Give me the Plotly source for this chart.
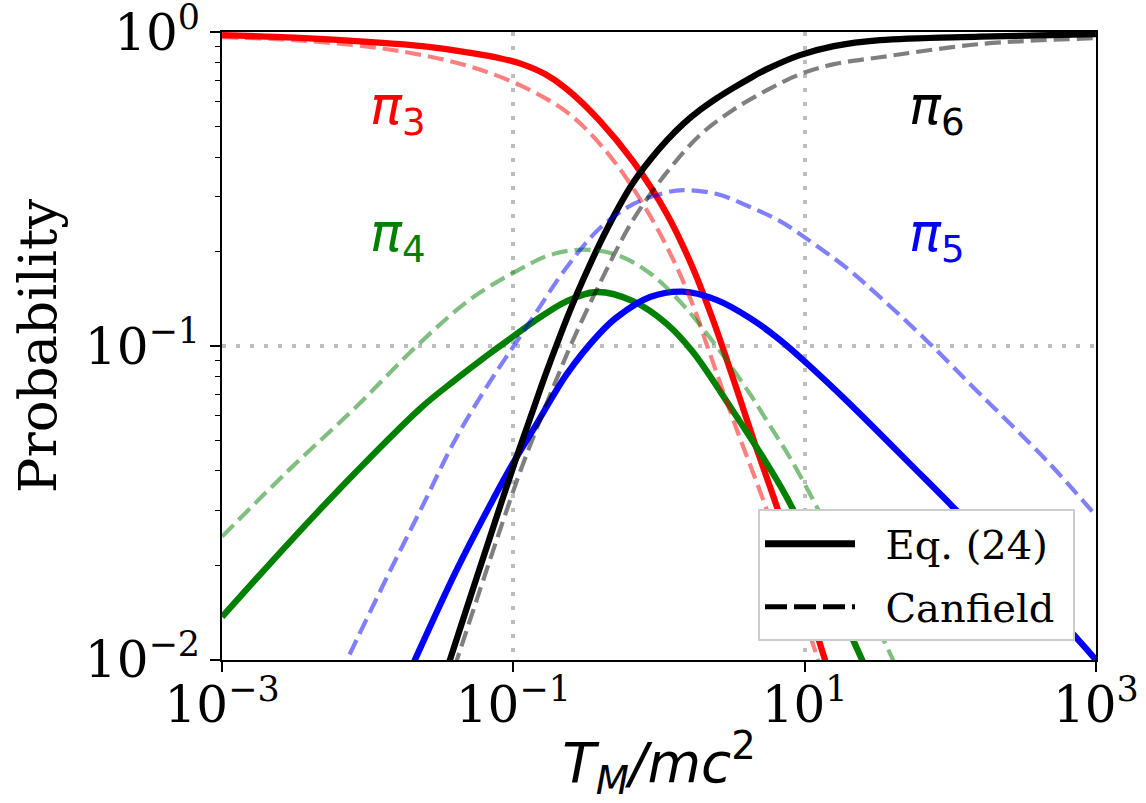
import plotly.graph_objects as go

# ---------------- data ----------------
# pi_3 : Eq. (24) and Canfield
T_pi3_eq = [0.001, 0.00317, 0.0107, 0.0236, 0.052, 0.0809, 0.1146, 0.165, 0.2333, 0.3936, 0.662, 1.135,
            1.71, 2.35, 3.221, 4.416, 6.457, 9.29, 13.8, 18.9]
P_pi3_eq = [0.978, 0.960, 0.929, 0.902, 0.857, 0.826, 0.791, 0.735, 0.658, 0.521, 0.388, 0.263,
            0.177, 0.121, 0.0791, 0.0509, 0.0307, 0.0180, 0.010, 0.0062]

T_pi3_cf = [0.001, 0.00317, 0.0107, 0.0236, 0.052, 0.1146, 0.2333, 0.3936, 0.662, 1.135, 1.71, 2.133,
            3.221, 5.508, 9.29, 12.36, 17.5]
P_pi3_cf = [0.964, 0.943, 0.896, 0.845, 0.774, 0.673, 0.556, 0.440, 0.319, 0.2067, 0.1351, 0.1007,
            0.0585, 0.0300, 0.01497, 0.010, 0.00607]

# pi_4
T_pi4_eq = [0.001, 0.00288, 0.00818, 0.0236, 0.0398, 0.0681, 0.0964, 0.1365, 0.2333, 0.375, 0.662, 1.135,
            1.71, 3.221, 5.57, 8.017, 24.8, 32.9]
P_pi4_eq = [0.0137, 0.0236, 0.0394, 0.0640, 0.0779, 0.0943, 0.1060, 0.1192, 0.1391, 0.1486, 0.139, 0.1175,
            0.0957, 0.0621, 0.0418, 0.0312, 0.010, 0.00746]

T_pi4_cf = [0.001, 0.00288, 0.00818, 0.0236, 0.052, 0.1146, 0.1786, 0.3006, 0.515, 0.867, 1.462, 2.5,
            4.217, 5.508, 8.851, 38.5, 52.8]
P_pi4_cf = [0.0247, 0.0403, 0.0635, 0.1038, 0.1422, 0.177, 0.195, 0.2028, 0.195, 0.1706, 0.1352, 0.0993,
            0.0703, 0.0577, 0.0403, 0.0105, 0.00746]

# pi_5
T_pi5_eq = [0.0159, 0.0211, 0.0398, 0.0681, 0.1026, 0.1365, 0.2333, 0.3936, 0.515, 0.867, 1.462, 2.5,
            4.217, 6.776, 11.4, 19.5, 55.5, 104.3, 300.6, 695, 1000]
P_pi5_eq = [0.00746, 0.010, 0.0189, 0.0307, 0.0434, 0.054, 0.0815, 0.110, 0.1236, 0.1432, 0.149, 0.140,
            0.1227, 0.1045, 0.0845, 0.0668, 0.0412, 0.0307, 0.0184, 0.0121, 0.010]

T_pi5_cf = [0.00551, 0.00721, 0.014, 0.0236, 0.0398, 0.0681, 0.0995, 0.1365, 0.2333, 0.3936, 0.664, 1.135,
            1.462, 2.5, 4.217, 6.776, 9.727, 19.5, 32.9, 69.2, 160, 460, 1000]
P_pi5_cf = [0.00767, 0.010, 0.0189, 0.0307, 0.0502, 0.0762, 0.0993, 0.1236, 0.1786, 0.2377, 0.2831, 0.309,
            0.314, 0.305, 0.2773, 0.250, 0.2239, 0.177, 0.1432, 0.1038, 0.0703, 0.0431, 0.0288]

# pi_6
T_pi6_eq = [0.02679, 0.0367, 0.0504, 0.0681, 0.1026, 0.1365, 0.1648, 0.2089, 0.257, 0.3006, 0.3936, 0.515,
            0.662, 0.867, 1.135, 1.462, 1.91, 2.5, 3.221, 4.217, 5.508, 9.29, 15.89, 32.9, 160, 1000]
P_pi6_eq = [0.00635, 0.010, 0.01574, 0.0241, 0.0428, 0.0625, 0.0802, 0.1076, 0.1370, 0.1622, 0.2128, 0.2710,
            0.3304, 0.3913, 0.4529, 0.5093, 0.5644, 0.6164, 0.6633, 0.7137, 0.7624, 0.8448, 0.9024, 0.943,
            0.9676, 0.9854]

T_pi6_cf = [0.0314, 0.041, 0.059, 0.0809, 0.1112, 0.1524, 0.1995, 0.257, 0.3936, 0.662, 1.135, 1.91,
            3.221, 5.508, 9.29, 15.89, 32.9, 160, 1000]
P_pi6_cf = [0.00683, 0.010, 0.0167, 0.0259, 0.0397, 0.0581, 0.0791, 0.1045, 0.1589, 0.2518, 0.3581, 0.4699,
            0.5649, 0.6531, 0.7345, 0.7907, 0.8318, 0.9162, 0.9572]

x_tickvals = [1e-3, 1e-1, 1e1, 1e3]
x_ticktext = ["10<sup>\u22123</sup>", "10<sup>\u22121</sup>", "10<sup>1</sup>", "10<sup>3</sup>"]
y_tickvals = [1e-2, 1e-1, 1e0]
y_ticktext = ["10<sup>\u22122</sup>", "10<sup>\u22121</sup>", "10<sup>0</sup>"]
y_minor_tickvals = [0.02, 0.03, 0.04, 0.05, 0.06, 0.07, 0.08, 0.09,
                    0.2, 0.3, 0.4, 0.5, 0.6, 0.7, 0.8, 0.9]

pi_labels = ["3", "4", "5", "6"]
legend_names = ["Eq. (24)", "Canfield"]

# ---------------- styles ----------------
solid_colors = ["#ff0000", "#008000", "#0000ff", "#000000"]
dash_colors = ["rgba(255,0,0,0.5)", "rgba(0,128,0,0.5)", "rgba(0,0,255,0.5)", "rgba(0,0,0,0.5)"]
SOLID_W = 6.3
DASH_W = 4.2
DASH = "16px,7px"

eq_series = [(T_pi3_eq, P_pi3_eq), (T_pi4_eq, P_pi4_eq), (T_pi5_eq, P_pi5_eq), (T_pi6_eq, P_pi6_eq)]
cf_series = [(T_pi3_cf, P_pi3_cf), (T_pi4_cf, P_pi4_cf), (T_pi5_cf, P_pi5_cf), (T_pi6_cf, P_pi6_cf)]

fig = go.Figure()
for (t, p), c in zip(eq_series, solid_colors):
    fig.add_trace(go.Scatter(x=t, y=p, mode="lines", showlegend=False, hoverinfo="skip",
                             line=dict(color=c, width=SOLID_W, shape="spline", smoothing=1.0)))
for (t, p), c in zip(cf_series, dash_colors):
    fig.add_trace(go.Scatter(x=t, y=p, mode="lines", showlegend=False, hoverinfo="skip",
                             line=dict(color=c, width=DASH_W, dash=DASH, shape="spline", smoothing=1.0)))

# legend entries
NB = "\u00a0\u00a0"
fig.add_trace(go.Scatter(x=[None], y=[None], mode="lines", name=NB + legend_names[0] + "\u00a0",
                         legendgroup="a", line=dict(color="black", width=7)))
fig.add_trace(go.Scatter(x=[None], y=[None], mode="lines", name=NB + legend_names[1] + "\u00a0",
                         legendgroup="b", line=dict(color="black", width=5, dash="22px,7px")))

GRID = dict(showgrid=True, gridcolor="#bdbdbd", gridwidth=4, griddash="4px,10px")
serif = "DejaVu Serif"
sans = "DejaVu Sans"

fig.update_xaxes(type="log", range=[-3.0005, 3.0005], tickvals=x_tickvals, ticktext=x_ticktext,
                 ticks="outside", ticklen=10, tickwidth=1.6, tickcolor="black",
                 ticklabelstandoff=-10, ticklabeloverflow="allow", automargin=False,
                 showline=True, linecolor="black", linewidth=1.8, mirror=True,
                 tickfont=dict(family=serif, size=50, color="black"),
                 title=dict(text="<i>T</i><sub><i>M</i></sub><i>/mc</i><sup>2</sup>",
                            font=dict(family=sans, size=55, color="black"), standoff=10),
                 **GRID)
fig.update_yaxes(type="log", range=[-2.0005, 0.0005], tickvals=y_tickvals, ticktext=y_ticktext,
                 ticks="outside", ticklen=10, tickwidth=1.6, tickcolor="black",
                 ticklabeloverflow="allow", automargin=False,
                 showline=True, linecolor="black", linewidth=1.8, mirror=True,
                 tickfont=dict(family=serif, size=50, color="black"),
                 minor=dict(tickvals=y_minor_tickvals, ticks="outside", ticklen=5,
                            tickwidth=1.2, tickcolor="black", showgrid=False),
                 title=dict(text="Probability", font=dict(family=serif, size=53, color="black"),
                            standoff=11),
                 **GRID)

ann_pos = [(0.201, 0.876), (0.201, 0.675), (0.818, 0.675), (0.818, 0.876)]
for num, c, (ax, ay) in zip(pi_labels, solid_colors, ann_pos):
    fig.add_annotation(x=ax, y=ay, xref="paper", yref="paper",
                       text="<i>\u03c0</i><sub>" + num + "</sub>",
                       showarrow=False, font=dict(family=sans, size=53, color=c),
                       xanchor="center", yanchor="middle")

fig.update_layout(
    width=1146, height=803,
    margin=dict(l=222, r=50, t=32, b=143),
    plot_bgcolor="white", paper_bgcolor="white",
    legend=dict(x=0.976, y=0.03, xanchor="right", yanchor="bottom",
                bgcolor="white", bordercolor="#cccccc", borderwidth=2,
                font=dict(family=serif, size=40, color="black"),
                tracegroupgap=8, itemwidth=90),
)

fig.write_html("out.html", config={"displayModeBar": False},
               post_script="document.body.style.margin='0';document.body.style.overflow='hidden';")
